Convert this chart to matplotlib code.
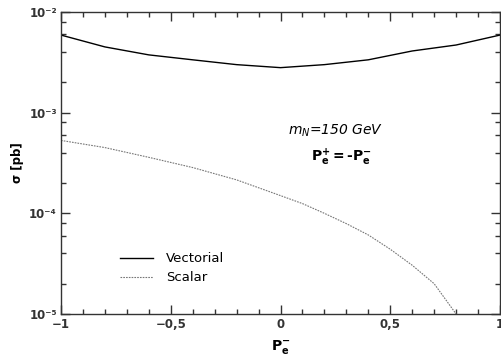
import matplotlib
matplotlib.use("Agg")
import matplotlib.pyplot as plt
from matplotlib.ticker import FixedLocator, LogLocator, NullFormatter, FixedFormatter, MultipleLocator

# Data
pol = [-1.0, -0.8, -0.6, -0.4, -0.2, 0.0, 0.2, 0.4, 0.6, 0.8, 1.0]
vectorial = [5.9e-3, 4.5e-3, 3.75e-3, 3.35e-3, 3.0e-3, 2.8e-3, 3.0e-3, 3.35e-3, 4.1e-3, 4.7e-3, 5.9e-3]
pol_s = [-1.0, -0.8, -0.6, -0.4, -0.2, 0.0, 0.1, 0.2, 0.3, 0.4, 0.5, 0.6, 0.7, 0.8]
scalar = [5.3e-4, 4.5e-4, 3.6e-4, 2.85e-4, 2.15e-4, 1.5e-4, 1.25e-4, 1.0e-4, 7.9e-5, 6.1e-5,
          4.4e-5, 3.05e-5, 2.0e-5, 1.0e-5]

xticks = [-1, -0.5, 0, 0.5, 1]
xticklabels = ["\u22121", "\u22120,5", "0", "0,5", "1"]
yticks = [1e-5, 1e-4, 1e-3, 1e-2]
yticklabels = ["10\u207b\u2075", "10\u207b\u2074", "10\u207b\u00b3", "10\u207b\u00b2"]

plt.rcParams['font.family'] = ['DejaVu Sans']
fig = plt.figure(figsize=(5.01, 3.6), dpi=100)
ax = fig.add_axes([61/501, 1-314/360, 439/501, 302/360])

ax.plot(pol, vectorial, color='black', lw=1.0, label='Vectorial')
ax.plot(pol_s, scalar, color='#777777', lw=0.8, linestyle=(0, (1.5, 1)), label='Scalar')

ax.set_yscale('log')
ax.set_xlim(-1, 1)
ax.set_ylim(1e-5, 1e-2)

ax.xaxis.set_major_locator(FixedLocator(xticks))
ax.xaxis.set_major_formatter(FixedFormatter(xticklabels))
ax.xaxis.set_minor_locator(MultipleLocator(0.1))
ax.yaxis.set_major_locator(FixedLocator(yticks))
ax.yaxis.set_major_formatter(FixedFormatter(yticklabels))
ax.yaxis.set_minor_locator(LogLocator(base=10, subs=[2, 4, 6, 8]))
ax.yaxis.set_minor_formatter(NullFormatter())

c = '#333333'
for s in ax.spines.values():
    s.set_color(c)
    s.set_linewidth(1.0)
ax.tick_params(which='both', direction='in', top=True, right=True, color=c, width=1.0)
ax.tick_params(which='major', length=6.5, labelsize=8.5, labelcolor=c, pad=3)
ax.tick_params(which='minor', length=3.6)
for lab in ax.get_xticklabels() + ax.get_yticklabels():
    lab.set_fontweight('bold')

ax.set_xlabel(r"$\mathbf{P_{e}^{-}}$", fontsize=10, color='black', labelpad=5)
ax.set_ylabel("\u03c3 [pb]", fontsize=8.5, fontweight='bold', color='black', labelpad=4)

ax.text(0.625, 0.605, r"$m_N$=150 GeV", transform=ax.transAxes, fontsize=10,
        style='italic', ha='center', va='center')
ax.text(0.64, 0.52, r"$\mathbf{P_{e}^{+}}$$\mathbf{=}$-$\mathbf{P_{e}^{-}}$", transform=ax.transAxes,
        fontsize=10, fontweight='bold', ha='center', va='center')

leg = ax.legend(loc='lower left', bbox_to_anchor=(0.113, 0.068), frameon=False, fontsize=9.5,
                handlelength=2.5, handletextpad=1.0, labelspacing=0.45, borderpad=0.2)

fig.savefig('out.png', dpi=100)
